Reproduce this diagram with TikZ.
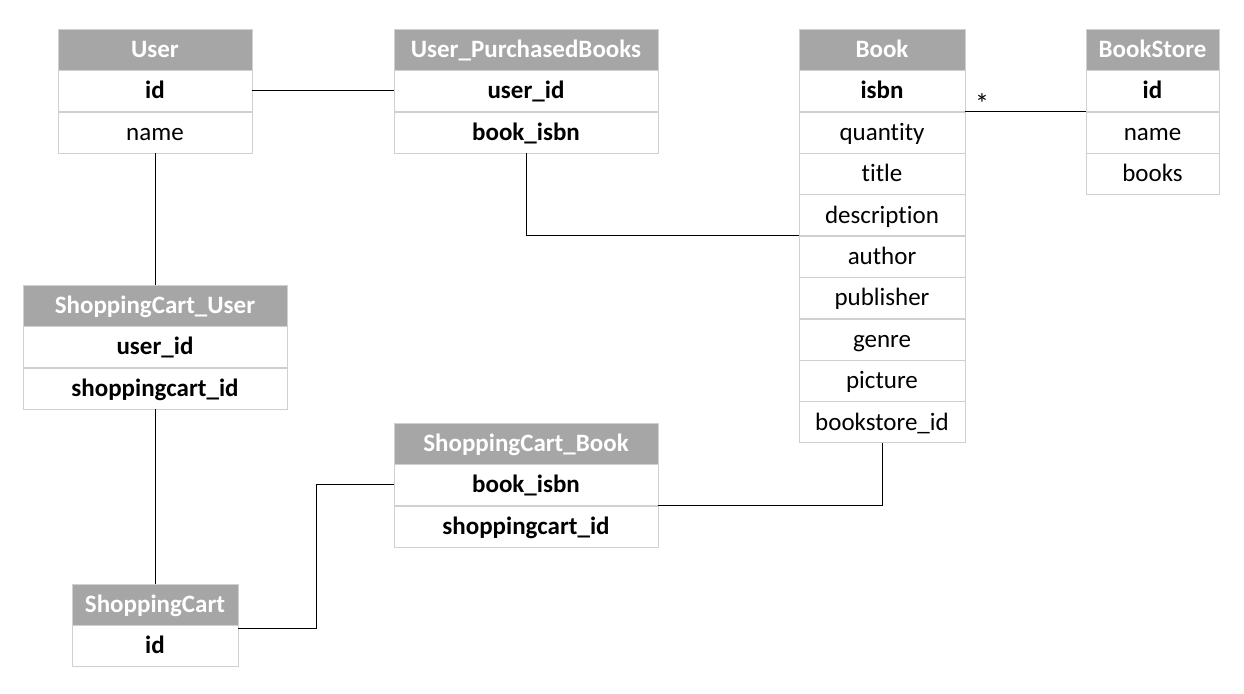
\documentclass[tikz,border=0pt]{standalone}
\usepackage{fontspec}
\setmainfont{Carlito}[Ligatures=NoCommon]
\usetikzlibrary{positioning}
\definecolor{headgray}{HTML}{A6A6A6}
\definecolor{cellgray}{HTML}{D0D0D0}
\begin{document}
\begin{tikzpicture}
[x=1pt,y=-1pt,
  headcell/.style={shape=rectangle,draw=cellgray,fill=headgray,text=white,inner sep=0pt,minimum height=41pt,text height=20pt,text depth=4pt,font=\fontsize{25}{30}\selectfont\bfseries},%
  keycell/.style={shape=rectangle,draw=cellgray,fill=white,inner sep=0pt,minimum height=41pt,text height=20pt,text depth=4pt,font=\fontsize{25}{30}\selectfont\bfseries},%
  fieldcell/.style={shape=rectangle,draw=cellgray,fill=white,inner sep=0pt,minimum height=41pt,text height=20pt,text depth=4pt,font=\fontsize{25}{30}\selectfont},%
  linkdecorate/.style={draw=black,line width=1pt}]
\useasboundingbox (0,0) rectangle (1244,693);
% User
\node (user) at (155,49.5) [headcell,minimum width=194pt] {User};
\node (userid) [keycell,minimum width=194pt,below=0pt of user] {id};
\node (username) [fieldcell,minimum width=194pt,below=0pt of userid] {name};
% User_PurchasedBooks
\node (upb) at (526,49.5) [headcell,minimum width=264pt] {User\_PurchasedBooks};
\node (upbuser) [keycell,minimum width=264pt,below=0pt of upb] {user\_id};
\node (upbisbn) [keycell,minimum width=264pt,below=0pt of upbuser] {book\_isbn};
% Book
\node (book) at (882,49.5) [headcell,minimum width=166pt] {Book};
\node (bookisbn) [keycell,minimum width=166pt,below=0pt of book] {isbn};
\node (bookqty) [fieldcell,minimum width=166pt,below=0pt of bookisbn] {quantity};
\node (booktitle) [fieldcell,minimum width=166pt,below=0pt of bookqty] {title};
\node (bookdesc) [fieldcell,minimum width=166pt,below=0pt of booktitle] {description};
\node (bookauthor) [fieldcell,minimum width=166pt,below=0pt of bookdesc] {author};
\node (bookpub) [fieldcell,minimum width=166pt,below=0pt of bookauthor] {publisher};
\node (bookgenre) [fieldcell,minimum width=166pt,below=0pt of bookpub] {genre};
\node (bookpic) [fieldcell,minimum width=166pt,below=0pt of bookgenre] {picture};
\node (bookstid) [fieldcell,minimum width=166pt,below=0pt of bookpic] {bookstore\_id};
% BookStore
\node (store) at (1152.5,49.5) [headcell,minimum width=133pt] {BookStore};
\node (storeid) [keycell,minimum width=133pt,below=0pt of store] {id};
\node (storename) [fieldcell,minimum width=133pt,below=0pt of storeid] {name};
\node (storebooks) [fieldcell,minimum width=133pt,below=0pt of storename] {books};
% ShoppingCart_User
\node (scu) at (155,305.5) [headcell,minimum width=264pt] {ShoppingCart\_User};
\node (scuuser) [keycell,minimum width=264pt,below=0pt of scu] {user\_id};
\node (scucart) [keycell,minimum width=264pt,below=0pt of scuuser] {shoppingcart\_id};
% ShoppingCart_Book
\node (scb) at (526,443.5) [headcell,minimum width=264pt] {ShoppingCart\_Book};
\node (scbisbn) [keycell,minimum width=264pt,below=0pt of scb] {book\_isbn};
\node (scbcart) [keycell,minimum width=264pt,below=0pt of scbisbn] {shoppingcart\_id};
% ShoppingCart
\node (cart) at (155,604.5) [headcell,minimum width=166pt] {ShoppingCart};
\node (cartid) [keycell,minimum width=166pt,below=0pt of cart] {id};
% links
\coordinate (cartbend) at (316,628);
\node (bookmult) at (982,104) [font=\fontsize{28}{32}\selectfont] {*};
\path[linkdecorate]
(userid.east) -- (upbuser.west)
(username.south) -- (scu.north)
(scucart.south) -- (cart.north)
(cartbend -| cartid.east) -- (cartbend) |- (scbisbn.west)
(upbisbn.south) |- (bookauthor.north west)
(bookisbn.south east) -- (storeid.south west)
(bookstid.south) |- (scbcart.north east);
\end{tikzpicture}
\end{document}
